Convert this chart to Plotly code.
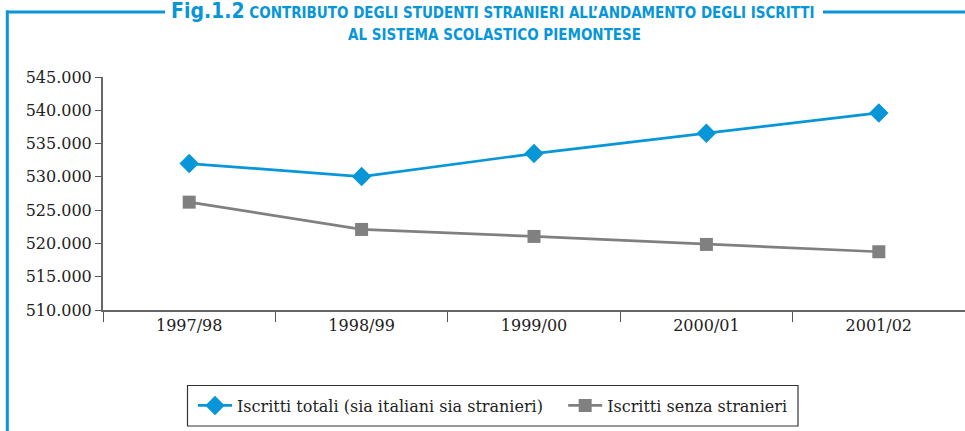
import plotly.graph_objects as go

categories = ["1997/98", "1998/99", "1999/00", "2000/01", "2001/02"]
totali = [532000, 530050, 533500, 536550, 539600]
senza_stranieri = [526200, 522100, 521050, 519850, 518750]
y_ticks = [510000, 515000, 520000, 525000, 530000, 535000, 540000, 545000]
y_tick_labels = ["510.000", "515.000", "520.000", "525.000", "530.000", "535.000", "540.000", "545.000"]

W, H = 965, 431
ML, MR, MT, MB = 103, 0, 77, 121
PW, PH = W - ML - MR, H - MT - MB

def px(x):
    return (x - ML) / PW

def py(y):
    return (H - MB - y) / PH

BLUE = "#0796d8"
GRAY = "#808080"

fig = go.Figure()
fig.add_trace(go.Scatter(
    x=categories, y=totali, mode="lines+markers",
    name="Iscritti totali (sia italiani sia stranieri)\u00a0\u00a0\u00a0",
    line=dict(color=BLUE, width=2.7),
    marker=dict(symbol="diamond", size=15, color=BLUE),
))
fig.add_trace(go.Scatter(
    x=categories, y=senza_stranieri, mode="lines+markers",
    name="Iscritti senza stranieri",
    line=dict(color=GRAY, width=2.7),
    marker=dict(symbol="square", size=13, color=GRAY),
))

serif = "DejaVu Serif, Liberation Serif, serif"
title_font = "Liberation Sans Narrow, DejaVu Sans Condensed, Arial Narrow, sans-serif"

fig.update_layout(
    width=W, height=H,
    margin=dict(l=ML, r=MR, t=MT, b=MB),
    paper_bgcolor="white", plot_bgcolor="white",
    font=dict(family=serif, size=16, color="#222"),
    showlegend=True,
    legend=dict(
        orientation="h", x=px(193), xanchor="left", y=py(405.5), yanchor="middle",
        borderwidth=0, bgcolor="rgba(0,0,0,0)", font=dict(family=serif, size=16, color="#222"),
        itemwidth=34,
    ),
    xaxis=dict(
        type="category", tickson="boundaries", ticks="outside", ticklen=10,
        tickcolor="#555", showline=True, linecolor="#666", linewidth=2,
        showgrid=False, range=[-0.5, 4.5], tickfont=dict(family=serif, size=16, color="#222"),
    ),
    yaxis=dict(
        range=[510000, 545000], tickvals=y_ticks, ticktext=y_tick_labels,
        ticks="outside", ticklen=6, tickcolor="#555", showline=True,
        linecolor="#666", linewidth=2, showgrid=False, zeroline=False,
        tickfont=dict(family=serif, size=16, color="#222"),
    ),
    shapes=[
        dict(type="line", xref="paper", yref="paper", x0=px(6), x1=px(165), y0=py(12), y1=py(12),
             line=dict(color=BLUE, width=3)),
        dict(type="line", xref="paper", yref="paper", x0=px(823), x1=px(965), y0=py(12), y1=py(12),
             line=dict(color=BLUE, width=3)),
        dict(type="line", xref="paper", yref="paper", x0=px(7.3), x1=px(7.3), y0=py(10.5), y1=py(431),
             line=dict(color=BLUE, width=3)),
        dict(type="rect", xref="paper", yref="paper", x0=px(187.5), x1=px(798), y0=py(385.5), y1=py(426),
             line=dict(color="#333", width=1.2), fillcolor="rgba(0,0,0,0)"),
    ],
    annotations=[
        dict(xref="paper", yref="paper", x=px(493), y=py(11), xanchor="center", yanchor="middle",
             showarrow=False,
             text="<b><span style='font-size:21px'>Fig.1.2</span> CONTRIBUTO DEGLI STUDENTI STRANIERI ALL’ANDAMENTO DEGLI ISCRITTI</b>",
             font=dict(family=title_font, size=15, color=BLUE)),
        dict(xref="paper", yref="paper", x=px(494), y=py(35), xanchor="center", yanchor="middle",
             showarrow=False,
             text="<b>AL SISTEMA SCOLASTICO PIEMONTESE</b>",
             font=dict(family=title_font, size=15, color=BLUE)),
    ],
)

fig.write_html("out.html", config={"displayModeBar": False},
               post_script="document.body.style.margin='0';document.body.style.padding='0';")
